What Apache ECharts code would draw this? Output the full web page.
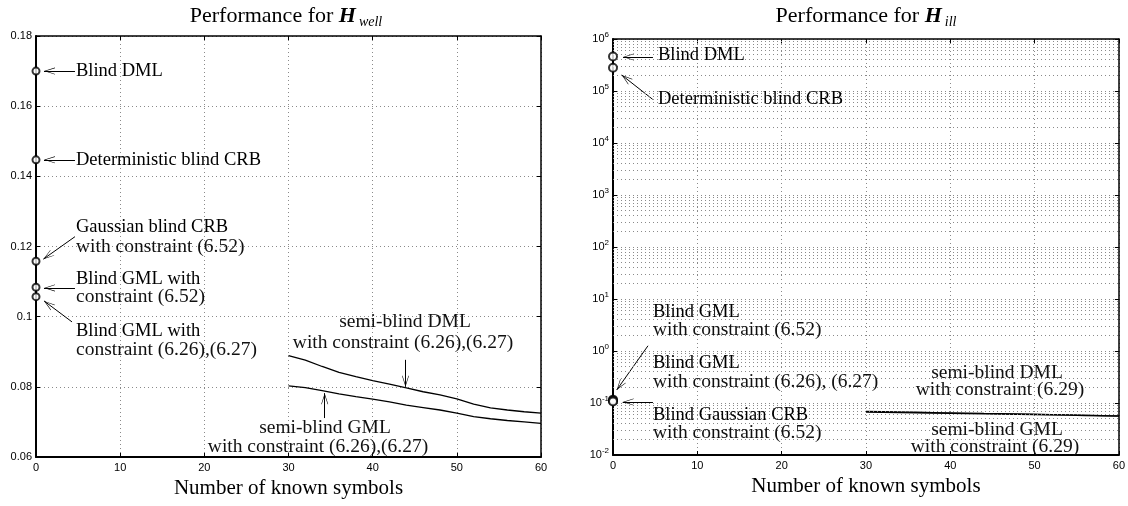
<!DOCTYPE html>
<html><head><meta charset="utf-8">
<script src="https://cdn.jsdelivr.net/npm/echarts@6/dist/echarts.min.js"></script>
<style>html,body{margin:0;padding:0;background:#fff}#c{width:1128px;height:506px}</style>
</head><body><div id="c"></div>
<script>
// ---------- data ----------
const xTickValues = [0, 10, 20, 30, 40, 50, 60];
const semiX = [30, 32, 34, 36, 38, 40, 42, 44, 46, 48, 50, 52, 54, 56, 58, 60];
// H_well
const wellSemiDML = [0.0889, 0.0876, 0.0858, 0.0841, 0.0829, 0.0818, 0.0808, 0.0797, 0.0786, 0.0777, 0.0766, 0.0751, 0.0740, 0.0734, 0.0729, 0.0725];
const wellSemiGML = [0.0803, 0.0798, 0.0789, 0.0780, 0.0772, 0.0765, 0.0757, 0.0748, 0.0741, 0.0734, 0.0725, 0.0715, 0.0709, 0.0704, 0.0700, 0.0696];
const blindMethods = ['Blind DML', 'Deterministic blind CRB', 'Gaussian blind CRB', 'Blind GML (6.52)', 'Blind GML (6.26),(6.27)'];
const wellBlind = [0.1700, 0.1447, 0.1158, 0.1084, 0.1057];
const wellYTicks = [0.06, 0.08, 0.10, 0.12, 0.14, 0.16, 0.18];
// H_ill
const illSemiDML = [0.0690, 0.0681, 0.0672, 0.0664, 0.0655, 0.0647, 0.0640, 0.0631, 0.0623, 0.0615, 0.0607, 0.0600, 0.0591, 0.0583, 0.0574, 0.0566];
const illSemiGML = [0.0670, 0.0662, 0.0654, 0.0647, 0.0639, 0.0632, 0.0624, 0.0617, 0.0610, 0.0603, 0.0596, 0.0589, 0.0582, 0.0574, 0.0566, 0.0559];
const illBlindMethods = ['Blind DML', 'Deterministic blind CRB', 'Blind GML (6.52)', 'Blind GML (6.26),(6.27)', 'Blind Gaussian CRB (6.52)'];
const illBlind = [4.6e5, 2.8e5, 0.116, 0.111, 0.107];
const illYTickExponents = [-2, -1, 0, 1, 2, 3, 4, 5, 6];

// ---------- styles ----------
const TIMES = '"Liberation Serif", "Times New Roman", serif';
const SANS = '"Liberation Sans", Arial, sans-serif';
const GRID_DOT = { color: '#8a8a8a', width: 1, type: [1, 3] };

function zip(xs, ys) { return xs.map((x, i) => [x, ys[i]]); }

const chart = echarts.init(document.getElementById('c'), null, { renderer: 'canvas' });

function xAx(gridIndex, pos, showLab) {
  return {
    type: 'value', gridIndex, position: pos, min: xTickValues[0], max: xTickValues[xTickValues.length - 1], interval: 10,
    axisLine: { show: true, onZero: false, lineStyle: { color: '#000', width: pos === 'bottom' ? 2 : 1.5 } },
    axisTick: { show: true, inside: true, length: 4, lineStyle: { color: '#000' } },
    axisLabel: { show: showLab, color: '#000', fontFamily: SANS, fontSize: 11, margin: 5 },
    splitLine: { show: showLab, lineStyle: GRID_DOT },
    name: showLab ? 'Number of known symbols' : '', nameLocation: 'middle', nameGap: 17,
    nameTextStyle: { color: '#000', fontFamily: TIMES, fontSize: 21 }
  };
}
function yWell(pos, showLab) {
  return {
    type: 'value', gridIndex: 0, position: pos, min: wellYTicks[0], max: wellYTicks[wellYTicks.length - 1], interval: 0.02,
    axisLine: { show: true, onZero: false, lineStyle: { color: '#000', width: pos === 'left' ? 2 : 1.5 } },
    axisTick: { show: true, inside: true, length: 4, lineStyle: { color: '#000' } },
    axisLabel: { show: showLab, color: '#000', fontFamily: SANS, fontSize: 11, margin: 4,
      formatter: v => String(+v.toFixed(2)) },
    splitLine: { show: showLab, lineStyle: GRID_DOT }
  };
}
function yIll(pos, showLab) {
  return {
    type: 'log', logBase: 10, gridIndex: 1, position: pos,
    min: Math.pow(10, illYTickExponents[0]), max: Math.pow(10, illYTickExponents[illYTickExponents.length - 1]),
    interval: 1, splitNumber: 8,
    axisLine: { show: true, onZero: false, lineStyle: { color: '#000', width: pos === 'left' ? 2 : 1.5 } },
    axisTick: { show: true, inside: true, length: 4, lineStyle: { color: '#000' } },
    axisLabel: { show: showLab, color: '#000', fontFamily: SANS, fontSize: 11, margin: 4,
      formatter: v => '{b|10}{s|' + Math.round(Math.log10(v)) + '}',
      rich: { b: { fontSize: 11, fontFamily: SANS, color: '#000' },
              s: { fontSize: 8, fontFamily: SANS, color: '#000', verticalAlign: 'top', padding: [0, 0, 8, 0] } } },
    splitLine: { show: showLab, lineStyle: GRID_DOT }
  };
}

// minor log gridlines (2..9 × 10^k)
const minorLines = [];
for (let e = illYTickExponents[0]; e < illYTickExponents[illYTickExponents.length - 1]; e++) {
  for (let k = 2; k <= 9; k++) minorLines.push({ yAxis: k * Math.pow(10, e) });
}

const ARROW = 'path://M0,10 L5,0 L10,10 L9.2,10 L5,1.8 L0.8,10 Z';
function arrows(list) {
  return {
    silent: true, symbol: ['none', ARROW], symbolSize: [7, 11], symbolOffset: [[0, 0], [0, 5.5]],
    label: { show: false }, lineStyle: { color: '#000', width: 1, type: 'solid' },
    emphasis: { disabled: true }, animation: false,
    data: list.map(a => [{ coord: a[0] }, { coord: a[1] }])
  };
}

const lineBase = { type: 'line', showSymbol: false, symbol: 'none', animation: false, silent: true,
  lineStyle: { color: '#000', width: 1.3 }, itemStyle: { color: '#000' } };

const series = [
  Object.assign({}, lineBase, { name: 'semi-blind DML (H_well)', xAxisIndex: 0, yAxisIndex: 0, data: zip(semiX, wellSemiDML),
    markLine: arrows([[[43.9, 0.0877], [43.9, 0.0800]], [[34.3, 0.0711], [34.3, 0.0782]]]) }),
  Object.assign({}, lineBase, { name: 'semi-blind GML (H_well)', xAxisIndex: 0, yAxisIndex: 0, data: zip(semiX, wellSemiGML),
    markLine: arrows([
      [[4.63, 0.1700], [0.95, 0.1700]],
      [[4.63, 0.1447], [0.95, 0.1447]],
      [[4.63, 0.1228], [0.87, 0.1164]],
      [[4.63, 0.1082], [0.95, 0.1082]],
      [[4.28, 0.0985], [0.95, 0.1045]]
    ]) }),
  { type: 'scatter', name: 'blind (H_well)', xAxisIndex: 0, yAxisIndex: 0, clip: false, animation: false, silent: true, z: 5,
    symbol: 'emptyCircle', symbolSize: 7, itemStyle: { color: '#000', borderColor: '#000', borderWidth: 1 },
    data: wellBlind.map(v => [0, v]) },
  Object.assign({}, lineBase, { name: 'semi-blind DML (H_ill)', xAxisIndex: 2, yAxisIndex: 2, data: zip(semiX, illSemiDML), z: 3,
    markLine: arrows([
      [[4.74, 4.5e5], [1.19, 4.5e5]],
      [[4.71, 6.9e4], [1.03, 2.03e5]],
      [[4.15, 1.26], [0.44, 0.178]],
      [[4.74, 0.1045], [1.15, 0.1045]]
    ]) }),
  Object.assign({}, lineBase, { name: 'semi-blind GML (H_ill)', xAxisIndex: 2, yAxisIndex: 2, data: zip(semiX, illSemiGML), z: 3 }),
  { type: 'scatter', name: 'blind (H_ill)', xAxisIndex: 2, yAxisIndex: 2, clip: false, animation: false, silent: true, z: 5,
    symbol: 'emptyCircle', symbolSize: 8, itemStyle: { color: '#000', borderColor: '#000', borderWidth: 1.3 },
    data: illBlind.map(v => [0, v]) },
  Object.assign({}, lineBase, { name: 'minor grid', xAxisIndex: 2, yAxisIndex: 2, data: [[0, 1]], z: 1,
    lineStyle: { opacity: 0 },
    markLine: { silent: true, symbol: 'none', label: { show: false }, animation: false,
      lineStyle: GRID_DOT, data: minorLines } })
];

// ---------- text annotations ----------
const ctx = document.createElement('canvas').getContext('2d');
function tw(txt, font) { ctx.font = font; return ctx.measureText(txt).width; }
const gfx = [];
function T(x, y, text, kind, align) {
  const size = kind === 'cm' ? 19.5 : 18.5;
  gfx.push({ type: 'text', x, y, z: 100, silent: true,
    style: { text, fill: kind === 'cm' ? '#111' : '#000', font: size + 'px ' + TIMES,
      textAlign: align || 'left', textVerticalAlign: 'middle' } });
}
function title(x0, y, sub) {
  const f1 = '22px ' + TIMES, f2 = 'italic bold 22px ' + TIMES, f3 = 'italic 14px ' + TIMES;
  const a = 'Performance for ';
  const w1 = tw(a, f1), w2 = tw('H', f2), w3 = tw(sub, f3);
  const start = x0 - (w1 + w2 + 3 + w3) / 2;
  gfx.push({ type: 'text', x: start, y, silent: true, style: { text: a, font: f1, fill: '#000', textVerticalAlign: 'middle' } });
  gfx.push({ type: 'text', x: start + w1, y, silent: true, style: { text: 'H', font: f2, fill: '#000', textVerticalAlign: 'middle' } });
  gfx.push({ type: 'text', x: start + w1 + w2 + 3, y: y + 6, silent: true, style: { text: sub, font: f3, fill: '#000', textVerticalAlign: 'middle' } });
}
title(286, 16, 'well');
title(866, 16, 'ill');

// left panel
T(76, 71, 'Blind DML', 'tm');
T(76, 160, 'Deterministic blind CRB', 'tm');
T(76, 227, 'Gaussian blind CRB', 'tm');
T(76, 247, 'with constraint (6.52)', 'cm');
T(76, 279, 'Blind GML with', 'tm');
T(76, 297, 'constraint (6.52)', 'cm');
T(76, 331, 'Blind GML with', 'tm');
T(76, 350, 'constraint (6.26),(6.27)', 'cm');
T(405, 322, 'semi-blind DML', 'cm', 'center');
T(403, 343, 'with constraint (6.26),(6.27)', 'cm', 'center');
T(325, 428, 'semi-blind GML', 'cm', 'center');
T(318, 447, 'with constraint (6.26),(6.27)', 'cm', 'center');
// right panel
T(658, 55, 'Blind DML', 'tm');
T(658, 99, 'Deterministic blind CRB', 'tm');
T(653, 312, 'Blind GML', 'tm');
T(653, 330, 'with constraint (6.52)', 'cm');
T(653, 363, 'Blind GML', 'tm');
T(653, 382, 'with constraint (6.26), (6.27)', 'cm');
T(653, 415, 'Blind Gaussian CRB', 'tm');
T(653, 433, 'with constraint (6.52)', 'cm');
T(997, 373, 'semi-blind DML', 'cm', 'center');
T(1000, 390, 'with constraint (6.29)', 'cm', 'center');
T(997, 430, 'semi-blind GML', 'cm', 'center');
T(995, 447, 'with constraint (6.29)', 'cm', 'center');

chart.setOption({
  animation: false,
  backgroundColor: '#fff',
  grid: [
    { left: 36, top: 36, width: 505, height: 421, containLabel: false },
    { left: 613, top: 39, width: 506, height: 416, containLabel: false }
  ],
  xAxis: [xAx(0, 'bottom', true), xAx(0, 'top', false), xAx(1, 'bottom', true), xAx(1, 'top', false)],
  yAxis: [yWell('left', true), yWell('right', false), yIll('left', true), yIll('right', false)],
  series,
  graphic: gfx
});
</script>
</body></html>
